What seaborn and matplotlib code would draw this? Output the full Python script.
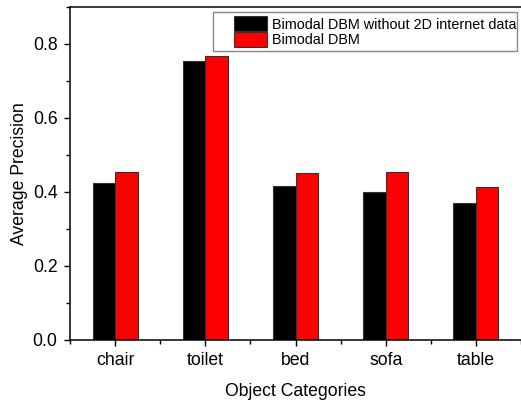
import seaborn as sns
import matplotlib.pyplot as plt
import matplotlib.patches as mpatches
import pandas as pd
from matplotlib.ticker import MultipleLocator, FixedLocator

# Values
categories = ['chair', 'toilet', 'bed', 'sofa', 'table']
without_2d = [0.423, 0.754, 0.415, 0.400, 0.370]
bimodal = [0.453, 0.768, 0.450, 0.454, 0.412]
series_names = ['Bimodal DBM without 2D internet data', 'Bimodal DBM']

df = pd.DataFrame({
    'category': categories * 2,
    'ap': without_2d + bimodal,
    'model': [series_names[0]] * len(categories) + [series_names[1]] * len(categories),
})

sns.set_style('ticks')
plt.rcParams['font.family'] = ['Liberation Sans', 'DejaVu Sans']
plt.rcParams['text.color'] = 'black'
plt.rcParams['axes.labelcolor'] = 'black'

fig = plt.figure(figsize=(5.21, 4), dpi=100)
ax = fig.add_axes([70 / 521, 60.5 / 400, 451 / 521, 332.5 / 400])

sns.barplot(data=df, x='category', y='ap', hue='model', order=categories,
            hue_order=series_names, palette=['#000000', '#ff0000'],
            width=0.5, gap=0, edgecolor='#333333', linewidth=0.8,
            saturation=1, ax=ax, legend=True)

ax.set_xlim(-0.5, 4.5)
ax.set_ylim(0, 0.9)
ax.yaxis.set_major_locator(MultipleLocator(0.2))
ax.yaxis.set_minor_locator(MultipleLocator(0.1))
ax.xaxis.set_minor_locator(FixedLocator([-0.5, 0.5, 1.5, 2.5, 3.5, 4.5]))
ax.yaxis.set_major_formatter(plt.FormatStrFormatter('%.1f'))

ax.tick_params(which='major', direction='out', length=4, width=1, labelsize=12.7,
               colors='black', pad=5)
ax.tick_params(which='minor', direction='out', length=3, width=1, colors='black')

for side in ['left', 'bottom', 'top']:
    ax.spines[side].set_visible(True)
    ax.spines[side].set_linewidth(1.1)
    ax.spines[side].set_color('black')
ax.spines['right'].set_visible(False)

ax.set_xlabel('Object Categories', fontsize=12.7, labelpad=10)
ax.set_ylabel('Average Precision', fontsize=12.7, labelpad=3)

# Legend: Origin-style, patches stacked with no spacing
handles, labels = ax.get_legend_handles_labels()
ax.legend(handles, labels, loc='upper left',
          bbox_to_anchor=(234 / 521, 1 - 16.5 / 400),
          bbox_transform=fig.transFigure, frameon=False,
          fontsize=10.4, borderpad=0, borderaxespad=0,
          handlelength=2.3, handleheight=1.2, labelspacing=0.0,
          handletextpad=0.3)

frame = mpatches.Rectangle((213 / 521, 1 - 50.7 / 400), 304 / 521, 39 / 400,
                           transform=fig.transFigure, fill=False,
                           edgecolor='#888888', linewidth=1)
fig.add_artist(frame)

fig.savefig('out.png', dpi=100)
